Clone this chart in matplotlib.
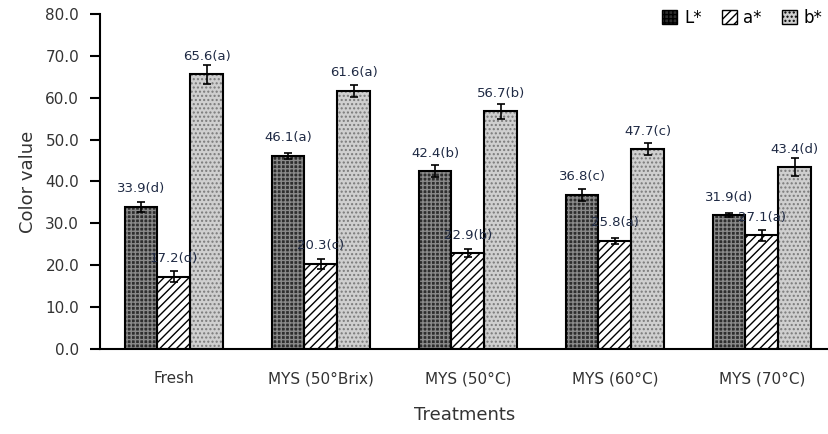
import matplotlib.pyplot as plt
import numpy as np

treatments = ["Fresh", "MYS (50°Brix)", "MYS (50°C)", "MYS (60°C)", "MYS (70°C)"]
L_vals = [33.9, 46.1, 42.4, 36.8, 31.9]
a_vals = [17.2, 20.3, 22.9, 25.8, 27.1]
b_vals = [65.6, 61.6, 56.7, 47.7, 43.4]
L_err = [1.3, 0.8, 1.4, 1.4, 0.5]
a_err = [1.3, 1.2, 1.0, 0.7, 1.4]
b_err = [2.3, 1.4, 1.7, 1.5, 2.1]
L_lab = ["33.9(d)", "46.1(a)", "42.4(b)", "36.8(c)", "31.9(d)"]
a_lab = ["17.2(d)", "20.3(c)", "22.9(b)", "25.8(a)", "27.1(a)"]
b_lab = ["65.6(a)", "61.6(a)", "56.7(b)", "47.7(c)", "43.4(d)"]

fig = plt.figure(figsize=(8.29, 4.34), dpi=100)
ax = fig.add_axes([0.1206, 0.196, 0.8794, 0.772])

x = np.arange(len(treatments))
w = 0.224

series = [
    (L_vals, L_err, L_lab, -w, "#2e2e2e", "#8a8a8a", "++++", "L*"),
    (a_vals, a_err, a_lab, 0, "white", "black", "////", "a*"),
    (b_vals, b_err, b_lab, w, "#cfcfcf", "#7a7a7a", "....", "b*"),
]

leg_patches = []
for vals, errs, labs, off, fc, hc, hatch, name in series:
    # hatch layer first, black outline drawn on top
    ax.bar(x + off, vals, w, color=fc, edgecolor=hc, hatch=hatch, linewidth=0, zorder=2)
    ax.bar(x + off, vals, w, fill=False, edgecolor="black", linewidth=1.5, zorder=3)
    ax.errorbar(x + off, vals, yerr=errs, fmt="none", ecolor="black", elinewidth=1.2,
                capsize=3, capthick=1.2, zorder=4)
    for xi, v, t in zip(x + off, vals, labs):
        ax.text(xi, v + 4.3, t, ha="center", va="center", fontsize=9.5, color="#1f2a44", zorder=5)
    leg_patches.append(plt.Rectangle((0, 0), 1, 1, facecolor=fc, edgecolor="black",
                                     hatch=hatch, linewidth=1))

ax.legend(leg_patches, [s[-1] for s in series], loc="upper right", ncol=3, frameon=False,
          fontsize=12, handlelength=0.9, handleheight=0.9, handletextpad=0.4,
          columnspacing=1.2, bbox_to_anchor=(1.0, 1.035), borderaxespad=0)

ax.set_xlim(-0.503, 4.456)
ax.set_ylim(0, 80)
ax.set_yticks(np.arange(0, 81, 10))
ax.set_yticklabels([f"{v:.1f}" for v in np.arange(0, 81, 10)], fontsize=11, color="#333333")
ax.set_xticks(x)
ax.set_xticklabels(treatments, fontsize=11, color="#333333")
ax.tick_params(axis="x", length=0, pad=16)
ax.tick_params(axis="y", direction="out", length=7, width=1.5, pad=8)
ax.spines["top"].set_visible(False)
ax.spines["right"].set_visible(False)
ax.spines["left"].set_linewidth(1.5)
ax.spines["bottom"].set_linewidth(1.5)
ax.set_ylabel("Color value", fontsize=13, color="#333333", labelpad=6)
ax.set_xlabel("Treatments", fontsize=13, color="#333333", labelpad=14)

fig.savefig("out.png", dpi=100)
